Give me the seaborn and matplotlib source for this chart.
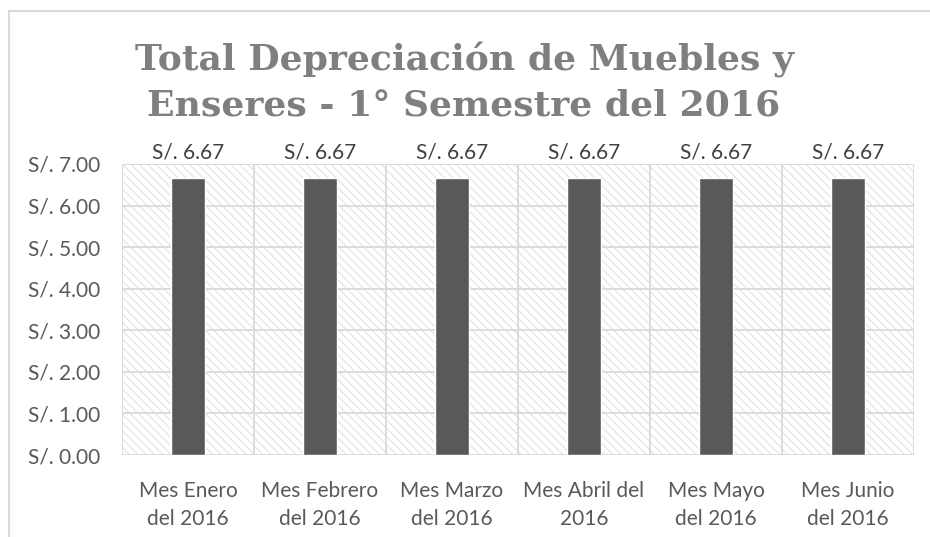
import matplotlib
matplotlib.use("Agg")
import matplotlib.pyplot as plt
import seaborn as sns
import pandas as pd
from matplotlib.patches import Rectangle

categories = ["Mes Enero\ndel 2016", "Mes Febrero\ndel 2016", "Mes Marzo\ndel 2016",
              "Mes Abril del\n2016", "Mes Mayo\ndel 2016", "Mes Junio\ndel 2016"]
values = [6.67, 6.67, 6.67, 6.67, 6.67, 6.67]
ytick_values = [0, 1, 2, 3, 4, 5, 6, 7]
title = "Total Depreciación de Muebles y\nEnseres - 1° Semestre del 2016"

sns.set_theme(style="white")
plt.rcParams['font.family'] = ['Lato', 'DejaVu Sans']
plt.rcParams['hatch.color'] = '#d9d9d9'
plt.rcParams['hatch.linewidth'] = 0.6

df = pd.DataFrame({"mes": categories, "valor": values})

fig = plt.figure(figsize=(9.3, 5.37), dpi=100)
fig.patch.set_facecolor('white')
ax = fig.add_axes([122/930, 1-455/537, (914-122)/930, (455-164)/537])

# hatched background
bg = Rectangle((0, 0), 1, 1, transform=ax.transAxes, facecolor='white',
               edgecolor='#d9d9d9', hatch='\\\\\\\\', linewidth=0, zorder=0)
ax.add_patch(bg)

sns.barplot(data=df, x="mes", y="valor", color="#595959", width=0.265,
            saturation=1, ax=ax, zorder=3)

ax.set_xlim(-0.5, len(categories) - 0.5)
ax.set_ylim(0, 7)
ax.set_yticks(ytick_values)
ax.set_yticklabels([f"S/. {v:.2f}" for v in ytick_values])
ax.set_xlabel("")
ax.set_ylabel("")

# grid lines
for v in ytick_values:
    ax.axhline(v, color='#d9d9d9', lw=1.3, zorder=1)
for i in range(len(categories) + 1):
    ax.axvline(i - 0.5, color='#d9d9d9', lw=1.3, zorder=1)
for s in ax.spines.values():
    s.set_visible(False)

ax.tick_params(axis='both', length=0, labelsize=15, labelcolor='#595959')
ax.tick_params(axis='y', pad=16)
ax.tick_params(axis='x', pad=19)
for lab in ax.get_xticklabels():
    lab.set_linespacing(1.45)

for i, v in enumerate(values):
    ax.annotate(f"S/. {v:.2f}", (i, 7), xytext=(0, 1), textcoords='offset points',
                ha='center', va='bottom', fontsize=15, color='#404040',
                annotation_clip=False)

fig.text(464/930, 1-82/537, title, ha='center', va='center', fontsize=26,
         fontweight='bold', color='#7f7f7f', family=['DejaVu Serif'],
         linespacing=1.4)

# outer chart border (top and left visible)
fig.add_artist(plt.Line2D([8.5/930, 1], [1-10.5/537, 1-10.5/537], color='#d9d9d9', lw=1.5,
                          transform=fig.transFigure))
fig.add_artist(plt.Line2D([8.5/930, 8.5/930], [0, 1-10.5/537], color='#d9d9d9', lw=1.5,
                          transform=fig.transFigure))

fig.savefig("out.png", dpi=100)
